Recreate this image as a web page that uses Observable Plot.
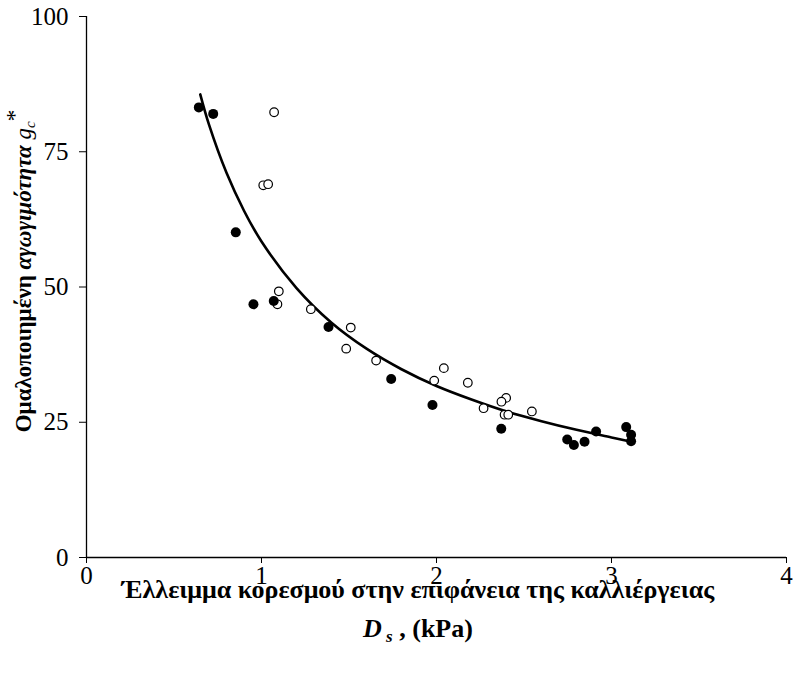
<!DOCTYPE html>
<html>
<head>
<meta charset="utf-8">
<script src="https://cdn.jsdelivr.net/npm/d3@7"></script>
<script src="https://cdn.jsdelivr.net/npm/@observablehq/plot@0.6"></script>
<style>
  html, body { margin: 0; padding: 0; background: #fff; }
  #chart { width: 795px; height: 673px; }
  #chart svg text { font-family: "Liberation Serif", serif; }
</style>
</head>
<body>
<div id="chart"></div>
<script>
// Closed circles (series 1)
const filledX = [0.642, 0.724, 0.853, 0.954, 1.070, 1.383, 1.741, 1.977, 2.370, 2.747, 2.785, 2.846, 2.912, 3.084, 3.112, 3.112];
const filledY = [83.2, 82.0, 60.1, 46.8, 47.4, 42.6, 33.0, 28.2, 23.8, 21.8, 20.8, 21.4, 23.3, 24.1, 22.7, 21.5];
// Open circles (series 2)
const openX = [1.072, 1.010, 1.038, 1.099, 1.091, 1.282, 1.510, 1.484, 1.655, 2.042, 1.987, 2.179, 2.269, 2.398, 2.371, 2.389, 2.410, 2.545];
const openY = [82.3, 68.8, 69.0, 49.2, 46.8, 45.9, 42.5, 38.6, 36.4, 35.0, 32.7, 32.3, 27.6, 29.5, 28.8, 26.4, 26.4, 27.0];
// Fitted curve
const curveX = [0.65, 0.7, 0.8, 0.9, 1.0, 1.2, 1.4, 1.6, 1.8, 2.0, 2.2, 2.4, 2.6, 2.8, 3.0, 3.1];
const curveY = [85.6, 80.0, 71.1, 64.1, 58.4, 49.8, 43.4, 38.6, 34.8, 31.7, 29.2, 27.0, 25.2, 23.6, 22.2, 21.5];
// Ticks
const xTicks = [0, 1, 2, 3, 4];
const yTicks = [0, 25, 50, 75, 100];

const filled = filledX.map((x, i) => ({x, y: filledY[i]}));
const open = openX.map((x, i) => ({x, y: openY[i]}));
const curve = curveX.map((x, i) => ({x, y: curveY[i]}));

const serif = "Liberation Serif";

const chart = Plot.plot({
  width: 795,
  height: 673,
  marginLeft: 86,
  marginRight: 9,
  marginTop: 16,
  marginBottom: 116,
  style: { fontFamily: serif, fontSize: "25px", color: "#000", background: "#fff" },
  x: { domain: [0, 4], ticks: xTicks, label: null },
  y: { domain: [0, 100], ticks: yTicks, label: null },
  marks: [
    Plot.axisX({ ticks: xTicks, tickFormat: d => String(d), tickSize: 6, tickPadding: 3, label: null, fontSize: 25, stroke: "#000" }),
    Plot.axisY({ ticks: yTicks, tickFormat: d => String(d), tickSize: 7, tickPadding: 11, label: null, fontSize: 25, stroke: "#000" }),
    Plot.ruleX([0], { y1: 0, y2: 100, stroke: "#000", strokeWidth: 1.3 }),
    Plot.ruleY([0], { x1: 0, x2: 4, stroke: "#000", strokeWidth: 1.3 }),
    Plot.line(curve, { x: "x", y: "y", curve: "catmull-rom", stroke: "#000", strokeWidth: 2.6 }),
    Plot.dot(open, { x: "x", y: "y", r: 4.3, fill: "#fff", stroke: "#000", strokeWidth: 1.2 }),
    Plot.dot(filled, { x: "x", y: "y", r: 5, fill: "#000", stroke: "none" })
  ]
});

const svg = d3.select(chart);
svg.selectAll("text").attr("fill", "#000").attr("font-family", serif);

// X axis title (two lines)
svg.append("text")
  .attr("x", 418).attr("y", 598)
  .attr("text-anchor", "middle")
  .attr("font-family", serif)
  .attr("font-weight", "bold")
  .attr("font-size", 26)
  .attr("fill", "#000")
  .text("Έλλειμμα κορεσμού στην επιφάνεια της καλλιέργειας");

const l2 = svg.append("text")
  .attr("x", 418).attr("y", 637)
  .attr("text-anchor", "middle")
  .attr("font-family", serif)
  .attr("font-weight", "bold")
  .attr("font-size", 26)
  .attr("fill", "#000");
l2.append("tspan").attr("font-style", "italic").text("D");
l2.append("tspan").attr("font-style", "italic").attr("font-size", 17).attr("dy", 5).text(" s");
l2.append("tspan").attr("dy", -5).text(" , (kPa)");

// Y axis title (rotated)
const yl = svg.append("text")
  .attr("transform", "translate(31,271) rotate(-90)")
  .attr("text-anchor", "middle")
  .attr("font-family", serif)
  .attr("font-weight", "bold")
  .attr("font-size", 23)
  .attr("fill", "#000");
yl.append("tspan").text("Ομαλοποιημένη ");
yl.append("tspan").attr("font-style", "italic").text("αγωγιμότητα ");
yl.append("tspan").attr("font-style", "italic").attr("font-weight", "normal").text("g");
yl.append("tspan").attr("font-style", "italic").attr("font-weight", "normal").attr("font-size", 15).attr("dy", 4).text("c");
yl.append("tspan").attr("font-weight", "normal").attr("dy", -13).text("*");

document.getElementById("chart").appendChild(chart);
</script>
</body>
</html>
